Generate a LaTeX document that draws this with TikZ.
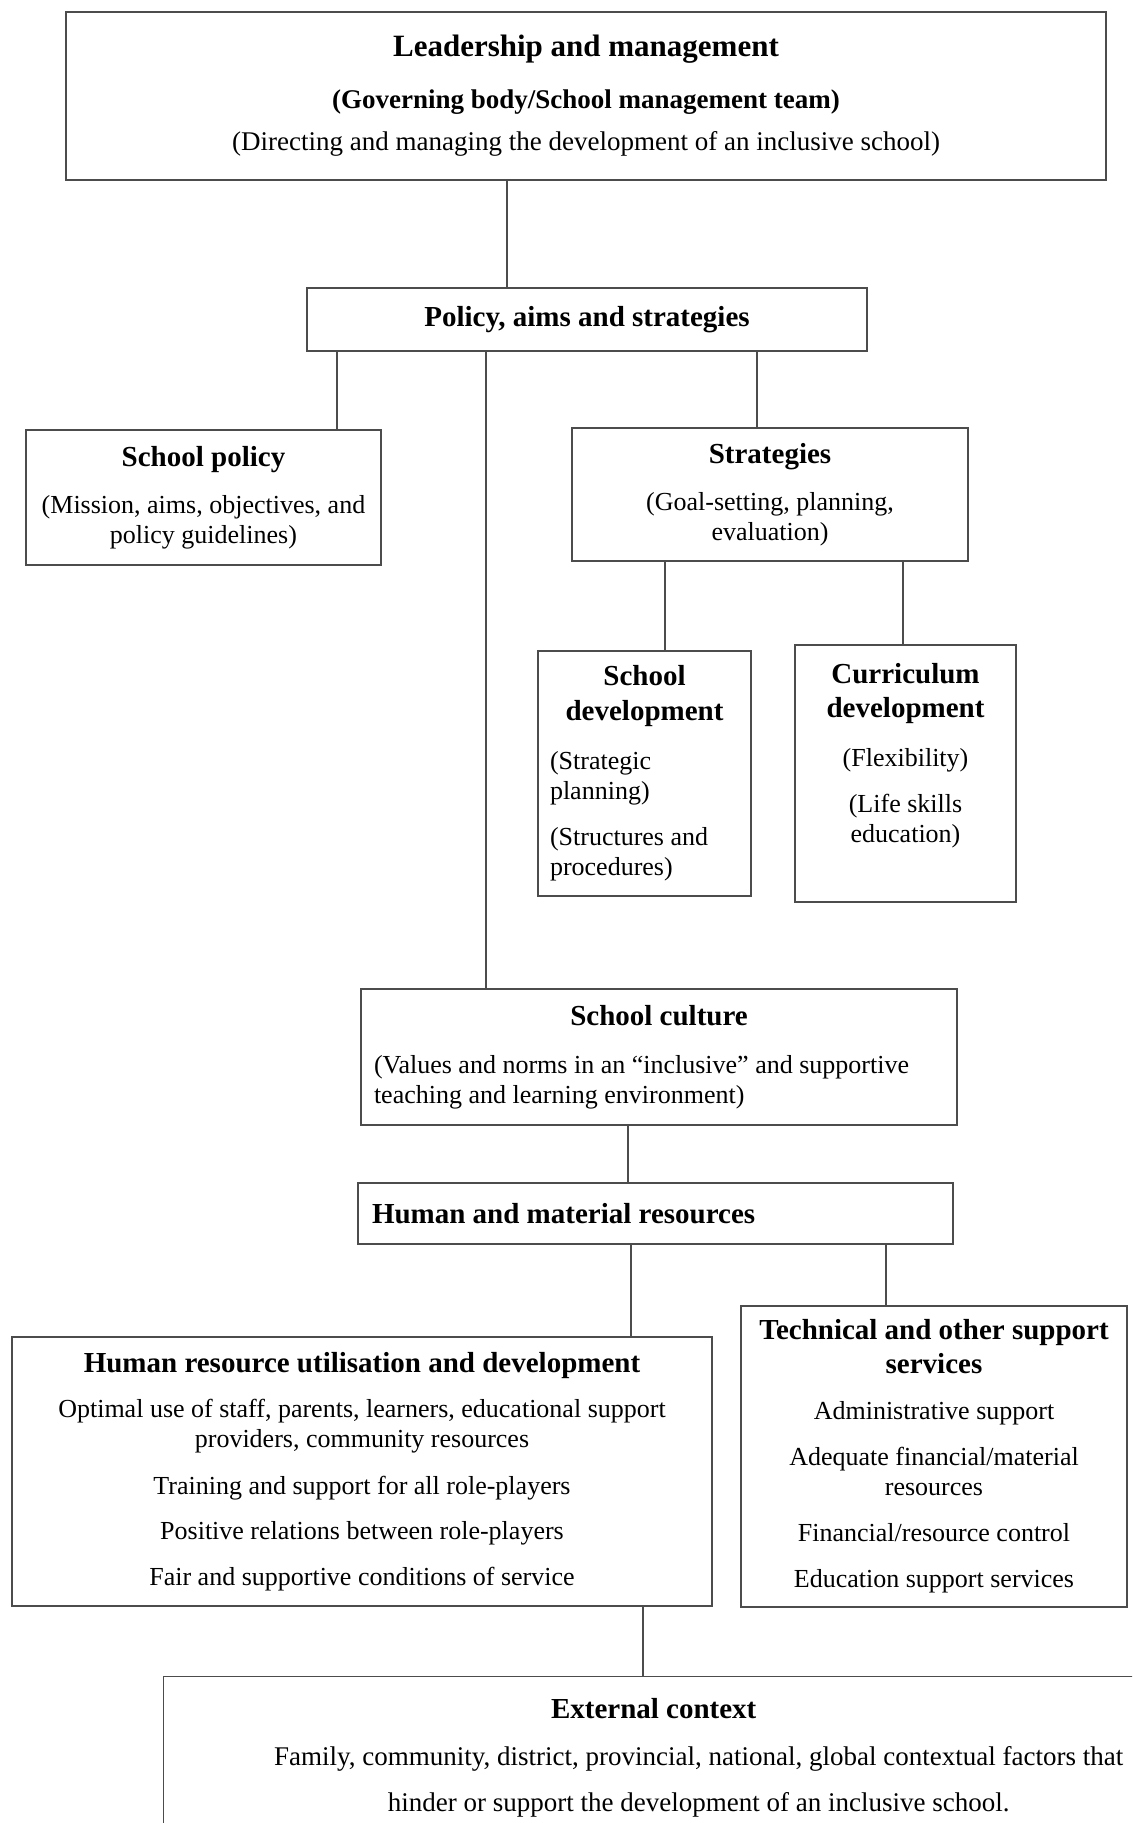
\documentclass[tikz,border=0pt]{standalone}
\usepackage{fontspec}
\setmainfont{Liberation Serif}
\tikzstyle{block}=[rectangle,draw=black!70,line width=0.7pt,inner sep=0pt,align=center,font=\fontsize{13}{15}\selectfont]
\tikzstyle{link}=[draw=black!70,line width=0.7pt]
\newcommand{\hd}[1]{{\fontsize{14.5}{17.5}\selectfont\bfseries #1}}

\begin{document}
\begin{tikzpicture}[x=0.5pt,y=-0.5pt]
		\path[use as bounding box] (0,0) rectangle (1132,1823);
		\clip (0,0) rectangle (1132,1823);
		% boxes
		\node[block, minimum width=520pt, minimum height=84pt, font=\fontsize{13.5}{21}\selectfont] at (586,96) (lead) {\textbf{\fontsize{15.5}{21}\selectfont Leadership and management}\\[5pt] \textbf{(Governing body/School management team)}\\ (Directing and managing the development of an inclusive school)};
		\node[block, minimum width=280pt, minimum height=31.5pt] at (587,319.5) (pol) {\hd{Policy, aims and strategies}};
		\node[block, minimum width=177.5pt, minimum height=67.5pt] at (203.5,497.5) (spol) {\hd{School policy}\\[8.5pt] (Mission, aims, objectives, and\\ policy guidelines)};
		\node[block, minimum width=198pt, minimum height=66.5pt] at (770,494.5) (strat) {\hd{Strategies}\\[8.5pt] (Goal-setting, planning,\\ evaluation)};
		\node[block, minimum width=106.5pt, minimum height=122.5pt] at (644.5,773.5) (sdev) {\hd{School}\\[2.5pt] \hd{development}\\[9.5pt] \makebox[94.5pt][l]{(Strategic}\\ \makebox[94.5pt][l]{planning)}\\[8pt] \makebox[94.5pt][l]{(Structures and}\\ \makebox[94.5pt][l]{procedures)}};
		\node[block, minimum width=110.5pt, minimum height=128.5pt] at (905.5,773.5) (cdev) {\hd{Curriculum}\\[2pt] \hd{development}\\[9.5pt] (Flexibility)\\[8pt] (Life skills\\ education)\\[6pt] \mbox{}};
		\node[block, minimum width=298pt, minimum height=68pt] at (659,1057) (cult) {\hd{School culture}\\[9pt] \makebox[285pt][l]{(Values and norms in an “inclusive” and supportive}\\ \makebox[285pt][l]{teaching and learning environment)}};
		\node[block, minimum width=297.5pt, minimum height=30.5pt] at (655.5,1213.5) (res) {\makebox[283.5pt][l]{\hd{Human and material resources}}};
		\node[block, minimum width=350pt, minimum height=134.5pt] at (362,1471.5) (hrud) {\hd{Human resource utilisation and development}\\[7.5pt] Optimal use of staff, parents, learners, educational support\\ providers, community resources\\[8.5pt] Training and support for all role-players\\[7.5pt] Positive relations between role-players\\[8pt] Fair and supportive conditions of service};
		\node[block, minimum width=193pt, minimum height=150.5pt] at (934,1456.5) (tech) {\hd{Technical and other support}\\[2pt] \hd{services}\\[8pt] Administrative support\\[8pt] Adequate financial/material\\ resources\\[8pt] Financial/resource control\\[8pt] Education support services};
		\node[block, anchor=north west, minimum width=535pt, inner ysep=11pt, font=\fontsize{13.5}{23}\selectfont] at (163,1676) (ext) {\hd{External context}\hspace*{45pt}\\[0.5pt] Family, community, district, provincial, national, global contextual factors that\\ hinder or support the development of an inclusive school.};
		% connector positions
		\coordinate (xlp) at (507,0);
		\coordinate (xps) at (337,0);
		\coordinate (xpc) at (486,0);
		\coordinate (xpt) at (757,0);
		\coordinate (xsd) at (665,0);
		\coordinate (xcd) at (903,0);
		\coordinate (xcr) at (628,0);
		\coordinate (xrh) at (631,0);
		\coordinate (xrt) at (886,0);
		\coordinate (xhe) at (643,0);
		% connectors
		\draw[link] (lead.south -| xlp) -- (pol.north -| xlp);
		\draw[link] (pol.south -| xps) -- (spol.north -| xps);
		\draw[link] (pol.south -| xpc) -- (cult.north -| xpc);
		\draw[link] (pol.south -| xpt) -- (strat.north -| xpt);
		\draw[link] (strat.south -| xsd) -- (sdev.north -| xsd);
		\draw[link] (strat.south -| xcd) -- (cdev.north -| xcd);
		\draw[link] (cult.south -| xcr) -- (res.north -| xcr);
		\draw[link] (res.south -| xrh) -- (hrud.north -| xrh);
		\draw[link] (res.south -| xrt) -- (tech.north -| xrt);
		\draw[link] (hrud.south -| xhe) -- (ext.north -| xhe);
\end{tikzpicture}
\end{document}
